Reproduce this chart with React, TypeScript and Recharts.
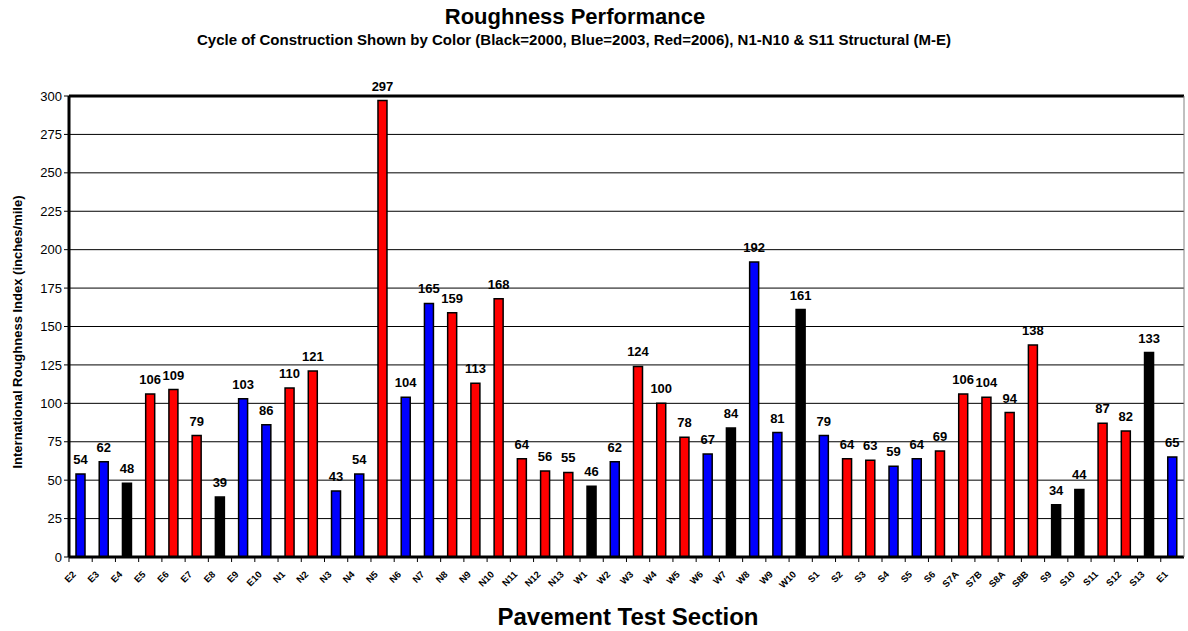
import React from 'react';
import { BarChart, Bar, XAxis, YAxis, CartesianGrid, Cell, LabelList, ReferenceLine } from 'recharts';

const categories = ['E2','E3','E4','E5','E6','E7','E8','E9','E10','N1','N2','N3','N4','N5','N6','N7','N8','N9','N10','N11','N12','N13','W1','W2','W3','W4','W5','W6','W7','W8','W9','W10','S1','S2','S3','S4','S5','S6','S7A','S7B','S8A','S8B','S9','S10','S11','S12','S13','E1'];
const roughness = [54,62,48,106,109,79,39,103,86,110,121,43,54,297,104,165,159,113,168,64,56,55,46,62,124,100,78,67,84,192,81,161,79,64,63,59,64,69,106,104,94,138,34,44,87,82,133,65];
const cycles = [2003,2003,2000,2006,2006,2006,2000,2003,2003,2006,2006,2003,2003,2006,2003,2003,2006,2006,2006,2006,2006,2006,2000,2003,2006,2006,2006,2003,2000,2003,2003,2000,2003,2006,2006,2003,2003,2006,2006,2006,2006,2006,2000,2000,2006,2006,2000,2003];
const yTicks = [0,25,50,75,100,125,150,175,200,225,250,275,300];
const cycleColors: Record<number, string> = { 2000: '#000000', 2003: '#0000FF', 2006: '#FF0000' };

const data = categories.map((c, i) => ({ section: c, value: roughness[i], cycle: cycles[i] }));

const W = 1188;
const H = 631;
const PLOT_LEFT = 69;
const PLOT_RIGHT = 1186;
const STEP = (PLOT_RIGHT - PLOT_LEFT) / categories.length;

const XTick = (props: any) => {
  const { x, y, payload } = props;
  const ax = x - 4;
  const ay = y + 10;
  return (
    <g>
      <line x1={x - STEP / 2} x2={x - STEP / 2} y1={y - 8} y2={y - 3} stroke="#000" strokeWidth={1} />
      <text x={ax} y={ay} textAnchor="end" fontSize={9.5} fontWeight="bold" fill="#000" transform={`rotate(-45, ${ax}, ${ay})`}>
        {payload.value}
      </text>
    </g>
  );
};

export default function App() {
  return (
    <div style={{ position: 'absolute', left: 0, top: 0, width: W, height: H, fontFamily: 'Arial, "Liberation Sans", sans-serif', background: '#fff' }}>
      <BarChart width={W} height={H} data={data} margin={{ top: 96, right: 2, bottom: 0, left: 0 }}>
        <CartesianGrid vertical={false} stroke="#000" strokeWidth={1} />
        <XAxis
          dataKey="section"
          interval={0}
          height={74}
          tickLine={false}
          tick={<XTick />}
          axisLine={{ stroke: '#000', strokeWidth: 3 }}
        />
        <YAxis
          width={69}
          domain={[0, 300]}
          ticks={yTicks}
          interval={0}
          tick={{ fontSize: 13, fill: '#000' }}
          tickLine={{ stroke: '#000' }}
          tickSize={5}
          axisLine={{ stroke: '#000', strokeWidth: 3 }}
        />
        <YAxis yAxisId="right" orientation="right" width={2} tick={false} tickLine={false} axisLine={{ stroke: '#808080', strokeWidth: 1 }} />
        <ReferenceLine y={300} stroke="#000" strokeWidth={3} />
        <Bar dataKey="value" barSize={9} stroke="#000" strokeWidth={1.5} isAnimationActive={false}>
          {data.map((d, i) => (
            <Cell key={i} fill={cycleColors[d.cycle]} />
          ))}
          <LabelList dataKey="value" position="top" offset={10} fontSize={13} fontWeight="bold" fill="#000" />
        </Bar>
      </BarChart>
      <svg width={W} height={H} style={{ position: 'absolute', left: 0, top: 0, pointerEvents: 'none' }}>
        <text x={575} y={24} textAnchor="middle" fontSize={22} fontWeight="bold" fill="#000">Roughness Performance</text>
        <text x={574} y={45} textAnchor="middle" fontSize={15} fontWeight="bold" fill="#000">Cycle of Construction Shown by Color (Black=2000, Blue=2003, Red=2006), N1-N10 &amp; S11 Structural (M-E)</text>
        <text x={22} y={332} textAnchor="middle" fontSize={13} fontWeight="bold" fill="#000" transform="rotate(-90, 22, 332)">International Roughness Index (inches/mile)</text>
        <text x={628} y={625} textAnchor="middle" fontSize={24} fontWeight="bold" fill="#000">Pavement Test Section</text>
      </svg>
    </div>
  );
}
